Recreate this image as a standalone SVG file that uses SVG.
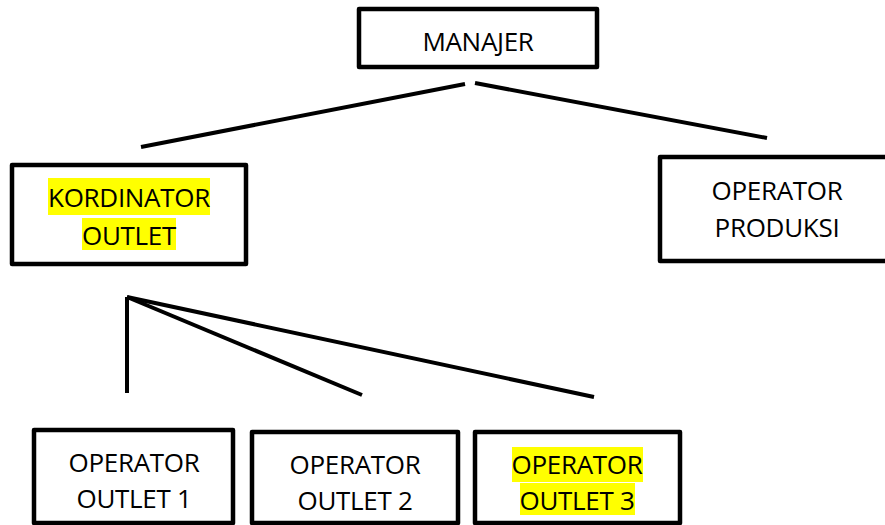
<svg xmlns="http://www.w3.org/2000/svg" width="885" height="525" viewBox="0 0 885 525">
<style>
.box{fill:#fff;stroke:#000;stroke-width:4.5;stroke-linejoin:round}
.t{font-family:"Open Sans","Liberation Sans",sans-serif;font-size:26px;letter-spacing:-0.3px;fill:#000;text-anchor:middle}
.hl{fill:#ffff00}
.ln{stroke:#000;stroke-width:4;fill:none}
</style>
<rect width="885" height="525" fill="#fff"/>
<g id="connectors">
<line class="ln" x1="465" y1="84" x2="141" y2="147"/>
<line class="ln" x1="475" y1="83" x2="767" y2="138"/>
<line class="ln" x1="127" y1="297" x2="127" y2="393"/>
<line class="ln" x1="127" y1="297" x2="362" y2="395"/>
<line class="ln" x1="127" y1="297" x2="594" y2="397"/>
</g>
<g id="manajer">
<rect class="box" x="359" y="9" width="238" height="58"/>
<text class="t" x="478" y="51">MANAJER</text>
</g>
<g id="kordinator">
<rect class="box" x="12" y="165" width="234" height="99"/>
<rect class="hl" x="48" y="178" width="162" height="37"/>
<rect class="hl" x="82" y="218" width="94" height="32"/>
<text class="t" x="129" y="207">KORDINATOR</text>
<text class="t" x="129" y="245">OUTLET</text>
</g>
<g id="produksi">
<rect class="box" x="660" y="157" width="232" height="104"/>
<text class="t" x="777" y="200">OPERATOR</text>
<text class="t" x="777" y="237">PRODUKSI</text>
</g>
<g id="outlet1">
<rect class="box" x="34" y="430" width="199" height="93"/>
<text class="t" x="134" y="472">OPERATOR</text>
<text class="t" x="134" y="508">OUTLET 1</text>
</g>
<g id="outlet2">
<rect class="box" x="252" y="432" width="206" height="91"/>
<text class="t" x="355" y="474">OPERATOR</text>
<text class="t" x="355" y="510">OUTLET 2</text>
</g>
<g id="outlet3">
<rect class="box" x="475" y="432" width="205" height="91"/>
<rect class="hl" x="512" y="447" width="131" height="35"/>
<rect class="hl" x="520" y="483" width="115" height="32"/>
<text class="t" x="577" y="474">OPERATOR</text>
<text class="t" x="577" y="510">OUTLET 3</text>
</g>
</svg>
